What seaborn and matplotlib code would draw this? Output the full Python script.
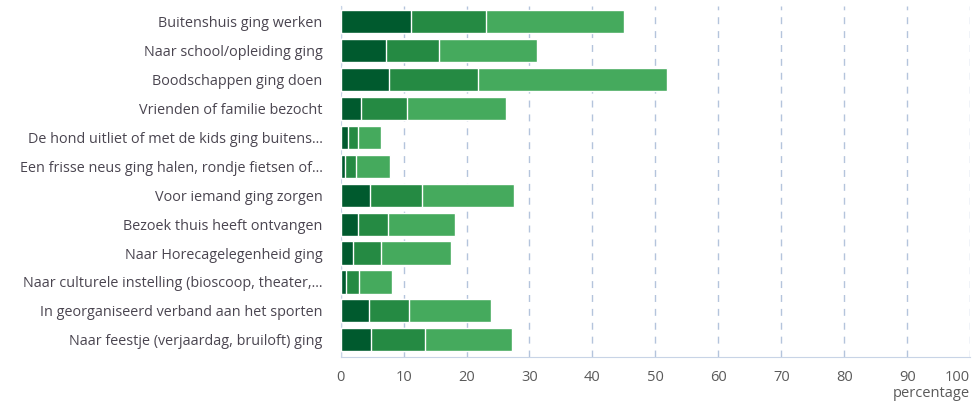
import matplotlib
matplotlib.use("Agg")
import matplotlib.pyplot as plt
import seaborn as sns
import pandas as pd
import numpy as np

categories = [
    "Buitenshuis ging werken",
    "Naar school/opleiding ging",
    "Boodschappen ging doen",
    "Vrienden of familie bezocht",
    "De hond uitliet of met de kids ging buitens...",
    "Een frisse neus ging halen, rondje fietsen of...",
    "Voor iemand ging zorgen",
    "Bezoek thuis heeft ontvangen",
    "Naar Horecagelegenheid ging",
    "Naar culturele instelling (bioscoop, theater,...",
    "In georganiseerd verband aan het sporten",
    "Naar feestje (verjaardag, bruiloft) ging",
]
dark = [11.2, 7.2, 7.7, 3.3, 1.1, 0.7, 4.7, 2.7, 1.9, 0.9, 4.5, 4.8]
mid = [11.9, 8.5, 14.2, 7.3, 1.6, 1.8, 8.3, 4.9, 4.5, 2.0, 6.4, 8.6]
light = [21.9, 15.5, 29.9, 15.6, 3.7, 5.4, 14.6, 10.6, 11.1, 5.2, 13.0, 13.9]
xticks = list(range(0, 101, 10))

colors = ["#005a2e", "#258a43", "#45aa5d"]

df = pd.DataFrame({"cat": categories, "dark": dark, "mid": mid, "light": light})
df["c1"] = df["dark"]
df["c2"] = df["dark"] + df["mid"]
df["c3"] = df["c2"] + df["light"]

sns.set_style("white")
plt.rcParams["font.family"] = ["Open Sans", "DejaVu Sans"]

fig = plt.figure(figsize=(9.76, 4.03), dpi=100)
ax = fig.add_axes([0.349, 0.114, 0.645, 0.871])

for col, c in zip(["c3", "c2", "c1"], colors[::-1]):
    sns.barplot(data=df, x=col, y="cat", orient="h", color=c, width=0.8,
                saturation=1, ax=ax, zorder=3)

ax.set_xlim(0, 100)
ax.set_ylim(11.6, -0.55)
ax.set_xticks(xticks)
ax.set_xticklabels([str(t) for t in xticks])
ax.get_xticklabels()[-1].set_horizontalalignment("right")
ax.get_xticklabels()[-1].set_x(100.6)
ax.xaxis.grid(True, linestyle=(0, (5, 5)), color="#b4c4dc", linewidth=1.0, zorder=0)
ax.yaxis.grid(False)
for s in ["top", "right"]:
    ax.spines[s].set_visible(False)
ax.spines["left"].set_color("#c8d4e6")
ax.spines["bottom"].set_color("#c8d4e6")
ax.tick_params(axis="y", length=3, color="#c8d4e6", labelsize=10.4, labelcolor="#4a4550", pad=10)
ax.tick_params(axis="x", length=0, labelsize=10.5, labelcolor="#5a5a5a", pad=9)
ax.set_ylabel("")
ax.set_xlabel("percentage", fontsize=10.5, color="#5a5a5a", ha="right", va="center")
ax.xaxis.set_label_coords(1.0, -0.103)

fig.savefig("out.png", dpi=100)
